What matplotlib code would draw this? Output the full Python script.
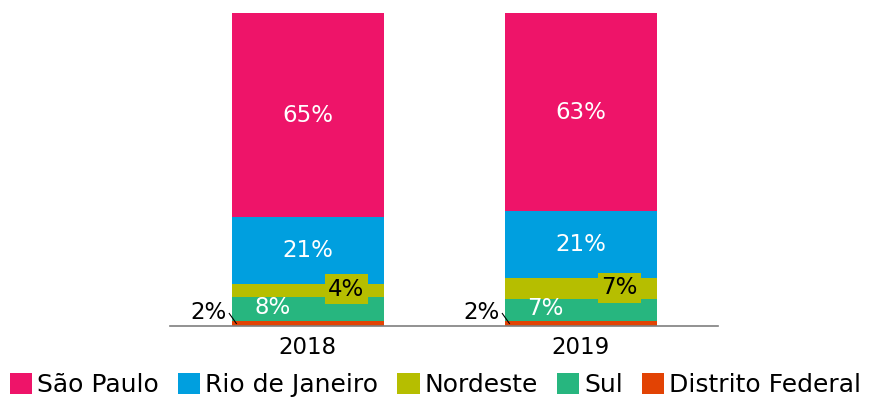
import matplotlib.pyplot as plt
import numpy as np

years = ["2018", "2019"]
regions = ["São Paulo", "Rio de Janeiro", "Nordeste", "Sul", "Distrito Federal"]
# shares in %
sao_paulo = [65.2, 63.3]
rio = [21.4, 21.4]
nordeste = [4.0, 6.8]
sul = [7.8, 6.9]
distrito_federal = [1.6, 1.6]
# labels as printed on the chart
value_labels = {
    "São Paulo": ["65%", "63%"],
    "Rio de Janeiro": ["21%", "21%"],
    "Nordeste": ["4%", "7%"],
    "Sul": ["8%", "7%"],
    "Distrito Federal": ["2%", "2%"],
}

colors = {
    "São Paulo": "#EE1469",
    "Rio de Janeiro": "#009FDF",
    "Nordeste": "#B6BE00",
    "Sul": "#27B67F",
    "Distrito Federal": "#E24304",
}

plt.rcParams["font.family"] = ["DejaVu Sans"]

fig = plt.figure(figsize=(8.71, 4.01), dpi=100)
ax = fig.add_axes([170 / 871, 1 - 326 / 401, 548 / 871, 313 / 401])

x = np.arange(len(years))
width = 0.557
fs = 16.5

# stack from bottom up
stack = [
    ("Distrito Federal", distrito_federal),
    ("Sul", sul),
    ("Nordeste", nordeste),
    ("Rio de Janeiro", rio),
    ("São Paulo", sao_paulo),
]
bottom = np.zeros(len(years))
bars = {}
for name, vals in stack:
    vals = np.array(vals)
    bars[name] = ax.bar(x, vals, width, bottom=bottom, color=colors[name],
                        label=name, edgecolor="none")
    for i in range(len(years)):
        mid = bottom[i] + vals[i] / 2
        txt = value_labels[name][i]
        if name in ("São Paulo", "Rio de Janeiro"):
            ax.text(x[i], mid, txt, ha="center", va="center",
                    color="white", fontsize=fs)
        elif name == "Sul":
            ax.text(x[i] - 0.13, mid + 0.5, txt, ha="center", va="center",
                    color="white", fontsize=fs)
        elif name == "Nordeste":
            ax.text(x[i] + 0.14, mid + 0.3, txt, ha="center", va="center",
                    color="black", fontsize=fs,
                    bbox=dict(boxstyle="square,pad=0.15", fc=colors[name], ec="none"))
        else:
            ax.text(x[i] - 0.365, 4.4, txt, ha="center", va="center",
                    color="black", fontsize=fs)
            ax.plot([x[i] - 0.288, x[i] - 0.262], [4.0, 0.8], color="black", lw=0.8)
    bottom = bottom + vals

ax.set_xlim(-0.505, 1.502)
ax.set_ylim(0, 100)
ax.set_xticks(x)
ax.set_xticklabels(years, fontsize=fs)
ax.tick_params(axis="x", length=0, pad=7)
ax.set_yticks([])
for s in ("top", "right", "left"):
    ax.spines[s].set_visible(False)
ax.spines["bottom"].set_color("#7f7f7f")
ax.spines["bottom"].set_linewidth(1.2)

handles = [bars[n] for n in regions]
fig.legend(handles, regions, loc="center", bbox_to_anchor=(0.5, 1 - 385 / 401),
           ncol=5, frameon=False, fontsize=18, handlelength=0.9, handleheight=0.9,
           handletextpad=0.2, columnspacing=0.75, borderaxespad=0)

fig.savefig("out.png", dpi=100)
